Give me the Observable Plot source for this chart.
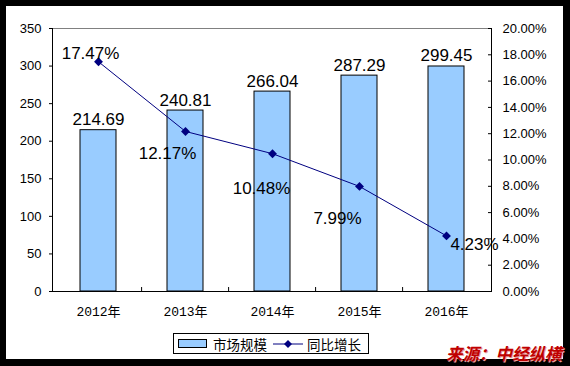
<!DOCTYPE html>
<html><head><meta charset="utf-8">
<script src="https://cdn.jsdelivr.net/npm/d3@7"></script>
<script src="https://cdn.jsdelivr.net/npm/@observablehq/plot@0.6"></script>
<style>
html,body{margin:0;padding:0;background:#000;width:570px;height:366px;overflow:hidden}
#panel{position:absolute;left:6px;top:6px;width:557px;height:353px;background:#fff}
#chart{position:absolute;left:0;top:0}
#legend{position:absolute;left:173px;top:333px;width:196px;height:21px;border:1px solid #000;background:#fff;font:13.5px "Noto Sans CJK SC";display:flex;align-items:center;box-sizing:border-box}
#legend .sw{width:27px;height:7px;background:#99ccff;border:1px solid #000;margin-left:4px;margin-right:6px}
#legend .ln{margin-left:6px;margin-right:4px}
#source{position:absolute;left:446px;top:341px;font:italic bold 16.5px "Noto Sans CJK SC";color:#c00000;text-shadow:1px 1px 0 #e8a0a0;white-space:nowrap}
</style></head>
<body>
<div id="panel"></div>
<div id="chart"></div>
<div id="legend"><div class="sw"></div><span>市场规模</span><svg class="ln" width="30" height="10"><line x1="0" y1="5" x2="30" y2="5" stroke="#000080" stroke-width="1"/><path d="M15,1L19,5L15,9L11,5Z" fill="#000080"/></svg><span>同比增长</span></div>
<div id="source">来源：中经纵横</div>
<script>
const years = ["2012年","2013年","2014年","2015年","2016年"];
const marketSize = [214.69,240.81,266.04,287.29,299.45];
const growth = [17.47,12.17,10.48,7.99,4.23];
const leftTicks = [0,50,100,150,200,250,300,350];
const rightTicks = [0,2,4,6,8,10,12,14,16,18,20];

const W = 570, H = 366, mL = 52, mR = 79, mT = 28, mB = 75;
const K = 350 / 20;
const step = (W - mL - mR) / years.length;
const pctOffsets = [[-8,-8],[-18,22],[-11,35],[-22,32],[28,9]];

const table = years.map((year, i) => ({year, size: marketSize[i], growth: growth[i], gy: growth[i] * K, i}));

const chart = Plot.plot({
  width: W, height: H,
  marginLeft: mL, marginRight: mR, marginTop: mT, marginBottom: mB,
  style: {background: "transparent", color: "#000", fontFamily: "Liberation Sans, Arial, sans-serif"},
  x: {domain: years, paddingInner: 0.59, paddingOuter: 0.295, label: null},
  y: {domain: [0, 350], label: null},
  marks: [
    Plot.frame({stroke: "#808080"}),
    Plot.barY(table, {x: "year", y: "size", fill: "#99ccff", stroke: "#000", strokeWidth: 1}),
    Plot.frame({anchor: "left", stroke: "#000"}),
    Plot.frame({anchor: "right", stroke: "#000"}),
    Plot.ruleY([0], {stroke: "#000"}),
    Plot.ruleX(years.slice(1), {x: d => d, y1: 0, y2: 5.3, dx: -step / 2, stroke: "#000"}),
    Plot.line(table, {x: "year", y: "gy", stroke: "#000080", strokeWidth: 1}),
    Plot.dot(table, {x: "year", y: "gy", symbol: "diamond2", r: 4, fill: "#000080", stroke: null}),
    Plot.text(table, {x: "year", y: "size", text: d => d.size.toFixed(2), lineAnchor: "bottom", dy: -5, fontSize: 17}),
    ...table.map((d, i) => Plot.text([d], {x: "year", y: "gy", text: r => r.growth.toFixed(2) + "%", fontSize: 17, dx: pctOffsets[i][0], dy: pctOffsets[i][1]})),
    Plot.axisY({anchor: "left", ticks: leftTicks, tickSize: 3, tickPadding: 8, fontSize: 13, label: null}),
    Plot.axisY({anchor: "right", ticks: rightTicks.map(t => t * K), tickFormat: d => (d / K).toFixed(2) + "%", tickSize: -4, tickPadding: 15, fontSize: 13, label: null}),
    Plot.axisX({tickSize: 0, tickPadding: 15, fontSize: 13, fontFamily: "Liberation Mono, Noto Sans CJK SC, monospace", label: null})
  ]
});
document.getElementById("chart").appendChild(chart);
</script>
</body></html>
